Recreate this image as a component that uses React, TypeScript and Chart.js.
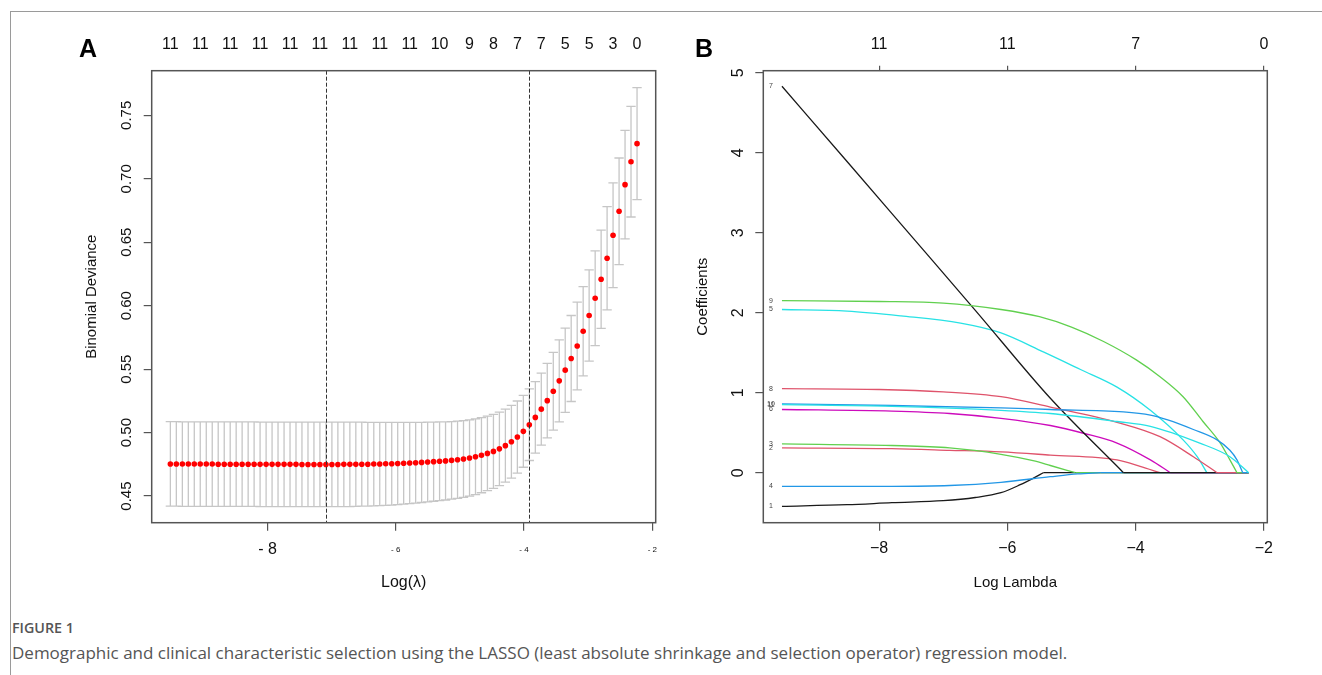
import React, { useEffect, useRef } from "react";
import { Chart, registerables } from "chart.js";

Chart.register(...registerables);

const FONT = "'Liberation Sans', Arial, Helvetica, sans-serif";
const AXIS_COLOR = "#555555";
const TEXT_COLOR = "#111111";

// ---------- Panel A : cross-validated binomial deviance ----------
const logLambda = [
  -9.515, -9.422, -9.328, -9.235, -9.142, -9.049, -8.955, -8.862, -8.769, -8.675,
  -8.582, -8.489, -8.396, -8.302, -8.209, -8.116, -8.022, -7.929, -7.836, -7.742,
  -7.649, -7.556, -7.463, -7.369, -7.276, -7.183, -7.089, -6.996, -6.903, -6.810,
  -6.716, -6.623, -6.530, -6.436, -6.343, -6.250, -6.157, -6.063, -5.970, -5.877,
  -5.783, -5.690, -5.597, -5.503, -5.410, -5.317, -5.224, -5.130, -5.037, -4.944,
  -4.850, -4.757, -4.664, -4.571, -4.477, -4.384, -4.291, -4.197, -4.104, -4.011,
  -3.918, -3.824, -3.731, -3.638, -3.544, -3.451, -3.358, -3.265, -3.171, -3.078,
  -2.985, -2.891, -2.798, -2.705, -2.612, -2.518, -2.425, -2.332, -2.238,
];

const cvMean = [
  0.4753, 0.4753, 0.4752, 0.4752, 0.4752, 0.4752, 0.4752, 0.4752, 0.4751, 0.4751,
  0.4751, 0.4751, 0.4751, 0.4751, 0.4751, 0.4750, 0.4750, 0.4750, 0.4750, 0.4750,
  0.4750, 0.4750, 0.4749, 0.4749, 0.4749, 0.4749, 0.4749, 0.4749, 0.4749, 0.4750,
  0.4750, 0.4750, 0.4751, 0.4751, 0.4752, 0.4753, 0.4754, 0.4755, 0.4757, 0.4759,
  0.4761, 0.4763, 0.4765, 0.4768, 0.4771, 0.4774, 0.4777, 0.4781, 0.4786, 0.4792,
  0.4800, 0.4810, 0.4822, 0.4836, 0.4852, 0.4872, 0.4897, 0.4928, 0.4965, 0.5010,
  0.5062, 0.5120, 0.5185, 0.5252, 0.5326, 0.5408, 0.5492, 0.5584, 0.5683, 0.5799,
  0.5923, 0.6059, 0.6209, 0.6374, 0.6555, 0.6744, 0.6954, 0.7135, 0.7277,
];

const cvSd = [
  0.0333, 0.0333, 0.0333, 0.0333, 0.0333, 0.0333, 0.0333, 0.0333, 0.0333, 0.0333,
  0.0333, 0.0333, 0.0333, 0.0333, 0.0333, 0.0333, 0.0333, 0.0333, 0.0333, 0.0333,
  0.0333, 0.0333, 0.0333, 0.0333, 0.0333, 0.0333, 0.0333, 0.0333, 0.0333, 0.0333,
  0.0333, 0.0332, 0.0331, 0.0330, 0.0329, 0.0328, 0.0327, 0.0326, 0.0324, 0.0322,
  0.0320, 0.0318, 0.0316, 0.0314, 0.0312, 0.0310, 0.0308, 0.0306, 0.0304, 0.0302,
  0.0300, 0.0298, 0.0296, 0.0294, 0.0292, 0.0290, 0.0288, 0.0286, 0.0284, 0.0283,
  0.0282, 0.0281, 0.0283, 0.0294, 0.0307, 0.0323, 0.0332, 0.0339, 0.0346, 0.0352,
  0.0360, 0.0373, 0.0387, 0.0407, 0.0413, 0.0420, 0.0428, 0.0436, 0.0441,
];

const logLambdaMin = -7.089;
const logLambda1se = -3.918;

const nzeroIdxA = [0, 5, 10, 15, 20, 25, 30, 35, 40, 45, 50, 54, 58, 62, 66, 70, 74, 78];
const nzeroA = [11, 11, 11, 11, 11, 11, 11, 11, 11, 10, 9, 8, 7, 7, 5, 5, 3, 0];

const xTickValues = [-8, -6, -4, -2];
const devianceTicks = [0.45, 0.5, 0.55, 0.6, 0.65, 0.7, 0.75];

// ---------- Panel B : coefficient paths ----------
const coefTicks = [0, 1, 2, 3, 4, 5];
const nzeroB = [11, 11, 7, 0];

const path1 = [[-9.515, -0.42], [-8.5, -0.40], [-7.8, -0.375], [-7.0, -0.35], [-6.5, -0.31], [-6.1, -0.25], [-5.8, -0.15], [-5.6, -0.07], [-5.44, 0]];
const path2 = [[-9.515, 0.31], [-7.8, 0.30], [-6.9, 0.28], [-6.1, 0.26], [-5.33, 0.22], [-4.29, 0.16], [-3.93, 0.08], [-3.62, 0]];
const path3 = [[-9.515, 0.36], [-7.8, 0.34], [-6.9, 0.31], [-6.1, 0.23], [-5.6, 0.15], [-5.33, 0.09], [-4.94, 0]];
const path4 = [[-9.515, -0.17], [-7.8, -0.17], [-6.9, -0.16], [-6.1, -0.12], [-5.33, -0.05], [-4.9, -0.015], [-4.55, 0]];
const path5 = [[-9.515, 2.04], [-8.5, 2.02], [-7.66, 1.96], [-6.73, 1.87], [-6.11, 1.75], [-5.44, 1.51], [-4.86, 1.29], [-4.29, 1.07], [-3.77, 0.78], [-3.26, 0.41], [-3.04, 0.2], [-2.89, 0]];
const path6 = [[-9.515, 0.79], [-7.8, 0.77], [-6.9, 0.74], [-6.1, 0.68], [-5.33, 0.59], [-4.8, 0.49], [-4.29, 0.37], [-3.77, 0.16], [-3.46, 0]];
const path7 = [[-9.515, 4.83], [-8.5, 3.89], [-7.5, 2.96], [-6.5, 2.03], [-5.33, 0.93], [-4.19, 0]];
const path8 = [[-9.515, 1.05], [-8.0, 1.04], [-7.0, 1.01], [-6.1, 0.95], [-5.33, 0.82], [-4.29, 0.63], [-3.62, 0.45], [-3.10, 0.2], [-2.73, 0]];
const path9 = [[-9.515, 2.15], [-8.0, 2.14], [-7.0, 2.12], [-6.1, 2.04], [-5.5, 1.95], [-5.0, 1.82], [-4.5, 1.64], [-3.99, 1.41], [-3.62, 1.2], [-3.26, 0.95], [-2.95, 0.64], [-2.68, 0.37], [-2.53, 0.16], [-2.42, 0]];
const path10 = [[-9.515, 0.86], [-7.8, 0.84], [-6.1, 0.81], [-5.33, 0.79], [-4.19, 0.76], [-3.77, 0.72], [-3.5, 0.66], [-3.1, 0.54], [-2.73, 0.41], [-2.53, 0.28], [-2.42, 0.16], [-2.33, 0]];
const path11 = [[-9.515, 0.85], [-7.8, 0.83], [-6.1, 0.78], [-5.33, 0.74], [-4.29, 0.64], [-3.77, 0.58], [-3.0, 0.37], [-2.53, 0.2], [-2.238, 0]];

const coefPaths = [path1, path2, path3, path4, path5, path6, path7, path8, path9, path10, path11];
const pathLabels = ["1", "2", "3", "4", "5", "6", "7", "8", "9", "10", "11"];
const pathColors = [
  "#1a1a1a", "#DF536B", "#61D04F", "#2297E6", "#28E2E5", "#CD0BBC",
  "#1a1a1a", "#DF536B", "#61D04F", "#2297E6", "#28E2E5",
];

const X_MIN = -9.806;
const X_MAX = -1.947;

// ---------- plugins ----------
const boxPlugin = {
  id: "plotBox",
  afterDraw(chart: any) {
    const { ctx, chartArea: a } = chart;
    ctx.save();
    ctx.strokeStyle = AXIS_COLOR;
    ctx.lineWidth = 1.5;
    ctx.strokeRect(a.left, a.top, a.right - a.left, a.bottom - a.top);
    ctx.restore();
  },
};

const errorBarPlugin = {
  id: "errorBars",
  beforeDatasetsDraw(chart: any) {
    const { ctx } = chart;
    const xs = chart.scales.x;
    const ys = chart.scales.y;
    const capHalf = 0.0728;
    ctx.save();
    ctx.strokeStyle = "#c6c6c6";
    ctx.lineWidth = 1.3;
    ctx.beginPath();
    logLambda.forEach((lx, i) => {
      const px = xs.getPixelForValue(lx);
      const up = ys.getPixelForValue(cvMean[i] + cvSd[i]);
      const lo = ys.getPixelForValue(cvMean[i] - cvSd[i]);
      const c0 = xs.getPixelForValue(lx - capHalf);
      const c1 = xs.getPixelForValue(lx + capHalf);
      ctx.moveTo(px, up);
      ctx.lineTo(px, lo);
      ctx.moveTo(c0, up);
      ctx.lineTo(c1, up);
      ctx.moveTo(c0, lo);
      ctx.lineTo(c1, lo);
    });
    ctx.stroke();
    ctx.restore();
  },
};

const cutoffPlugin = {
  id: "cutoffLines",
  afterDatasetsDraw(chart: any) {
    const { ctx, chartArea: a } = chart;
    const xs = chart.scales.x;
    ctx.save();
    ctx.strokeStyle = "#333333";
    ctx.lineWidth = 1;
    ctx.setLineDash([4, 2]);
    [logLambdaMin, logLambda1se].forEach((v) => {
      const px = Math.round(xs.getPixelForValue(v)) + 0.5;
      ctx.beginPath();
      ctx.moveTo(px, a.top);
      ctx.lineTo(px, a.bottom);
      ctx.stroke();
    });
    ctx.restore();
  },
};

const pathLabelPlugin = {
  id: "pathLabels",
  afterDatasetsDraw(chart: any) {
    const { ctx } = chart;
    const xs = chart.scales.x;
    const ys = chart.scales.y;
    ctx.save();
    ctx.font = `7px ${FONT}`;
    ctx.fillStyle = "#444444";
    ctx.textAlign = "center";
    ctx.textBaseline = "middle";
    coefPaths.forEach((p, k) => {
      const px = xs.getPixelForValue(p[0][0]) - 11;
      const py = ys.getPixelForValue(p[0][1]);
      ctx.fillText(pathLabels[k], px, py);
    });
    ctx.restore();
  },
};

// ---------- configs ----------
function configA(): any {
  return {
    type: "scatter",
    data: {
      datasets: [
        {
          data: logLambda.map((x, i) => ({ x, y: cvMean[i] })),
          pointRadius: 2.8,
          pointBackgroundColor: "#ff0000",
          pointBorderColor: "#ff0000",
          pointBorderWidth: 0,
          showLine: false,
        },
      ],
    },
    options: {
      animation: false,
      responsive: false,
      events: [],
      layout: { padding: { left: 83, right: 24.3, top: 10, bottom: 8 } },
      plugins: { legend: { display: false }, tooltip: { enabled: false } },
      scales: {
        x: {
          type: "linear",
          position: "bottom",
          min: X_MIN,
          max: X_MAX,
          afterBuildTicks: (s: any) => {
            s.ticks = xTickValues.map((v) => ({ value: v }));
          },
          afterFit: (s: any) => {
            s.height = 69.3;
          },
          grid: { drawOnChartArea: false, drawTicks: true, tickLength: 8, color: AXIS_COLOR, lineWidth: 1.2 },
          border: { display: false },
          ticks: {
            autoSkip: false,
            maxRotation: 0,
            padding: 9.7,
            color: TEXT_COLOR,
            font: (c: any) =>
              c.tick && c.tick.value === -8
                ? { family: FONT, size: 16, lineHeight: 1.2 }
                : { family: FONT, size: 8, lineHeight: 2.4 },
            callback: (v: any) => "- " + Math.abs(v),
          },
          title: { display: true, text: "Log(λ)", color: TEXT_COLOR, font: { family: FONT, size: 16 }, padding: 0 },
        },
        xTop: {
          type: "linear",
          position: "top",
          min: X_MIN,
          max: X_MAX,
          afterBuildTicks: (s: any) => {
            s.ticks = nzeroIdxA.map((i) => ({ value: logLambda[i] }));
          },
          afterFit: (s: any) => {
            s.height = 60.7;
          },
          grid: { display: false, drawTicks: false },
          border: { display: false },
          ticks: {
            autoSkip: false,
            maxRotation: 0,
            padding: 16.1,
            color: TEXT_COLOR,
            font: { family: FONT, size: 16 },
            callback: (_v: any, i: number) => String(nzeroA[i]),
          },
        },
        y: {
          type: "linear",
          min: 0.429,
          max: 0.7852,
          afterBuildTicks: (s: any) => {
            s.ticks = devianceTicks.map((v) => ({ value: v }));
          },
          afterFit: (s: any) => {
            s.width = 68.7;
          },
          grid: { drawOnChartArea: false, drawTicks: true, tickLength: 8, color: AXIS_COLOR, lineWidth: 1.2 },
          border: { display: false },
          ticks: {
            autoSkip: false,
            minRotation: 90,
            maxRotation: 90,
            crossAlign: "center",
            padding: 2.4,
            color: TEXT_COLOR,
            font: { family: FONT, size: 15 },
            callback: (v: any) => Number(v).toFixed(2),
          },
          title: { display: true, text: "Binomial Deviance", color: TEXT_COLOR, font: { family: FONT, size: 15 }, padding: 0 },
        },
      },
    },
    plugins: [errorBarPlugin, cutoffPlugin, boxPlugin],
  };
}

function configB(): any {
  const lastX = logLambda[logLambda.length - 1];
  const datasets: any[] = [];
  coefPaths.forEach((p, k) => {
    const end = p[p.length - 1];
    datasets.push({
      data: p.map(([x, y]) => ({ x, y })),
      borderColor: pathColors[k],
      borderWidth: 1.3,
      pointRadius: 0,
      showLine: true,
      cubicInterpolationMode: "monotone",
      order: 20 - k,
    });
    datasets.push({
      data: [
        { x: end[0], y: 0 },
        { x: lastX, y: 0 },
      ],
      borderColor: pathColors[k],
      borderWidth: 1.3,
      pointRadius: 0,
      showLine: true,
      order: 20 - k,
    });
  });
  return {
    type: "scatter",
    data: { datasets },
    options: {
      animation: false,
      responsive: false,
      events: [],
      layout: { padding: { left: 14, right: 54.7, top: 10, bottom: 8 } },
      plugins: { legend: { display: false }, tooltip: { enabled: false } },
      scales: {
        x: {
          type: "linear",
          position: "bottom",
          min: X_MIN,
          max: X_MAX,
          afterBuildTicks: (s: any) => {
            s.ticks = xTickValues.map((v) => ({ value: v }));
          },
          afterFit: (s: any) => {
            s.height = 69.3;
          },
          grid: { drawOnChartArea: false, drawTicks: true, tickLength: 8, color: AXIS_COLOR, lineWidth: 1.2 },
          border: { display: false },
          ticks: {
            autoSkip: false,
            maxRotation: 0,
            padding: 8.7,
            color: TEXT_COLOR,
            font: { family: FONT, size: 16 },
            callback: (v: any) => "\u2212" + Math.abs(v),
          },
          title: { display: true, text: "Log Lambda", color: TEXT_COLOR, font: { family: FONT, size: 15 }, padding: 0 },
        },
        xTop: {
          type: "linear",
          position: "top",
          min: X_MIN,
          max: X_MAX,
          afterBuildTicks: (s: any) => {
            s.ticks = xTickValues.map((v) => ({ value: v }));
          },
          afterFit: (s: any) => {
            s.height = 60.7;
          },
          grid: { drawOnChartArea: false, drawTicks: true, tickLength: 5, color: AXIS_COLOR, lineWidth: 1.2 },
          border: { display: false },
          ticks: {
            autoSkip: false,
            maxRotation: 0,
            padding: 11.1,
            color: TEXT_COLOR,
            font: { family: FONT, size: 16 },
            callback: (_v: any, i: number) => String(nzeroB[i]),
          },
        },
        y: {
          type: "linear",
          min: -0.625,
          max: 5.025,
          afterBuildTicks: (s: any) => {
            s.ticks = coefTicks.map((v) => ({ value: v }));
          },
          afterFit: (s: any) => {
            s.width = 69.3;
          },
          grid: { drawOnChartArea: false, drawTicks: true, tickLength: 8, color: AXIS_COLOR, lineWidth: 1.2 },
          border: { display: false },
          ticks: {
            autoSkip: false,
            minRotation: 90,
            maxRotation: 90,
            crossAlign: "center",
            padding: 11.8,
            color: TEXT_COLOR,
            font: { family: FONT, size: 16 },
            callback: (v: any) => String(v),
          },
          title: { display: true, text: "Coefficients", color: TEXT_COLOR, font: { family: FONT, size: 15 }, padding: 0 },
        },
      },
    },
    plugins: [pathLabelPlugin, boxPlugin],
  };
}

export default function App() {
  const refA = useRef<HTMLCanvasElement>(null);
  const refB = useRef<HTMLCanvasElement>(null);

  useEffect(() => {
    const chartA = new Chart(refA.current as HTMLCanvasElement, configA());
    const chartB = new Chart(refB.current as HTMLCanvasElement, configB());
    return () => {
      chartA.destroy();
      chartB.destroy();
    };
  }, []);

  return (
    <div
      style={{
        position: "absolute",
        left: 0,
        top: 0,
        width: 1322,
        height: 675,
        background: "#ffffff",
        overflow: "hidden",
      }}
    >
      <div
        style={{
          position: "absolute",
          left: 10,
          top: 11,
          width: 1320,
          height: 670,
          borderTop: "1px solid #9a9a9a",
          borderLeft: "1px solid #9a9a9a",
        }}
      />
      <canvas
        ref={refA}
        width={680}
        height={600}
        style={{ position: "absolute", left: 0, top: 0, width: 680, height: 600 }}
      />
      <canvas
        ref={refB}
        width={642}
        height={600}
        style={{ position: "absolute", left: 680, top: 0, width: 642, height: 600 }}
      />
      <div
        style={{
          position: "absolute",
          left: 79,
          top: 36,
          fontFamily: FONT,
          fontWeight: 700,
          fontSize: 25,
          lineHeight: "25px",
          color: "#000",
        }}
      >
        A
      </div>
      <div
        style={{
          position: "absolute",
          left: 695,
          top: 36,
          fontFamily: FONT,
          fontWeight: 700,
          fontSize: 25,
          lineHeight: "25px",
          color: "#000",
        }}
      >
        B
      </div>
      <div
        style={{
          position: "absolute",
          left: 12,
          top: 618,
          fontFamily: "'Open Sans', 'Noto Sans', sans-serif",
          fontWeight: 600,
          fontSize: 14.3,
          lineHeight: "20px",
          color: "#555555",
          whiteSpace: "nowrap",
        }}
      >
        FIGURE 1
      </div>
      <div
        style={{
          position: "absolute",
          left: 12,
          top: 642,
          fontFamily: "'Open Sans', 'Noto Sans', sans-serif",
          fontSize: 17,
          lineHeight: "22px",
          color: "#555555",
          whiteSpace: "nowrap",
        }}
      >
        Demographic and clinical characteristic selection using the LASSO (least absolute shrinkage and selection operator) regression model.
      </div>
    </div>
  );
}
